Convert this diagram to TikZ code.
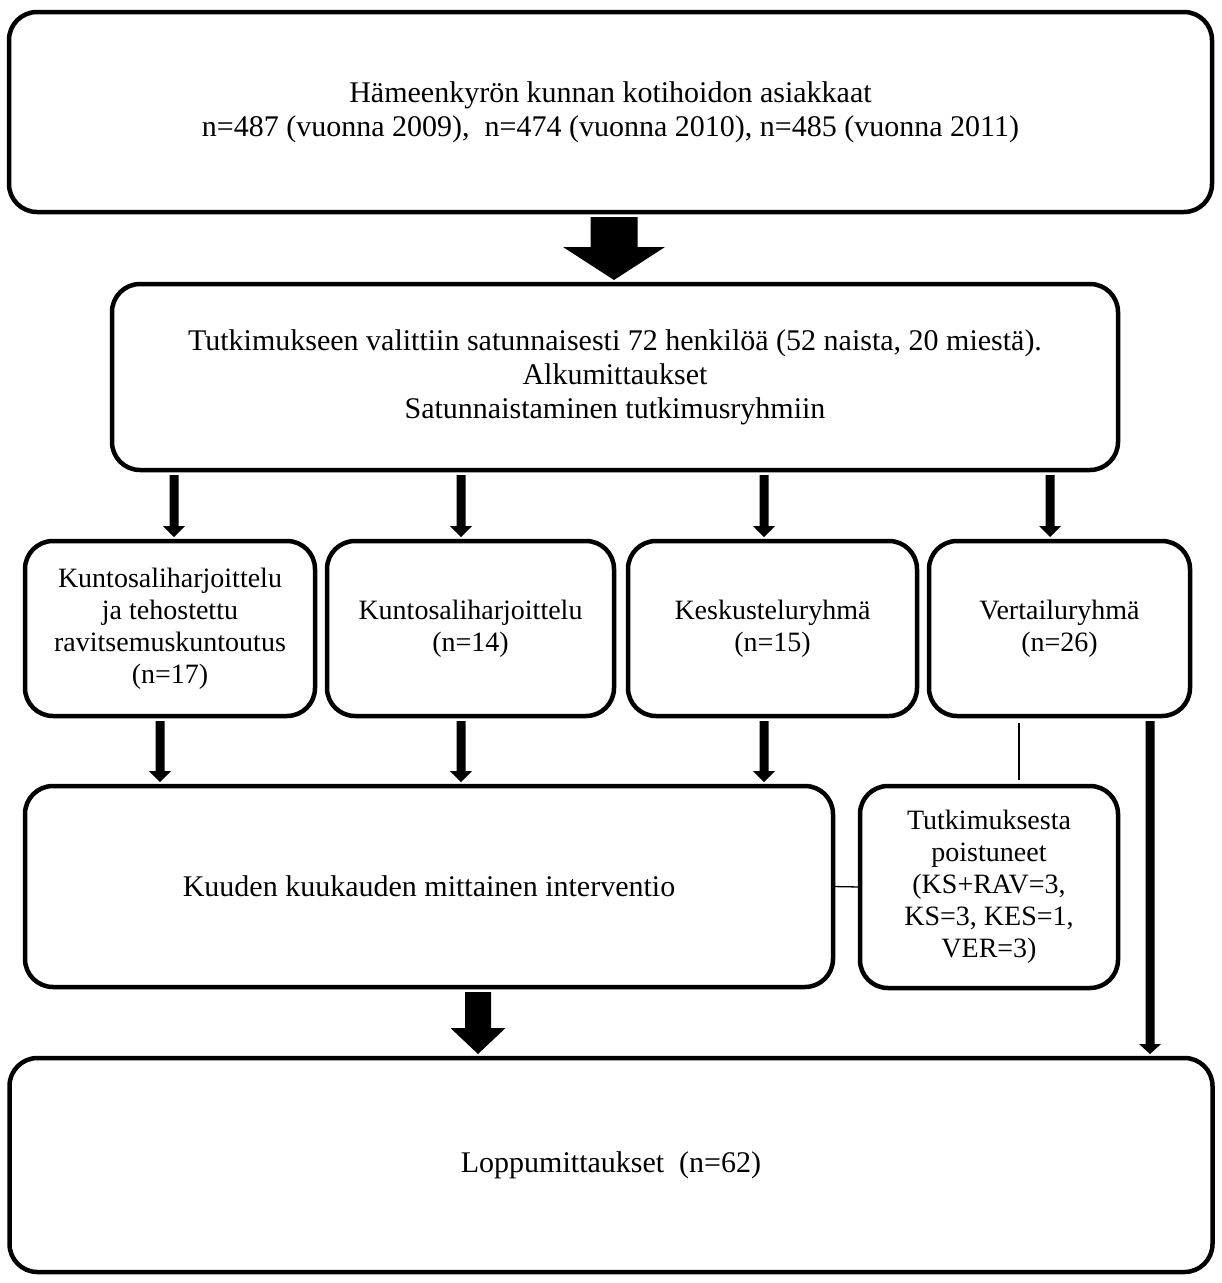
\documentclass[tikz,border=0pt]{standalone}
\usepackage{fontspec}
\setmainfont{Liberation Serif}
\usetikzlibrary{calc}
% fat block arrow: #1 x position, #2 source anchor, #3 target anchor,
% #4 shaft half width, #5 head half width, #6 head length
\newcommand{\fatarrow}[6]{%
  \fill[arrowfill] let \p1=($(#1,0 |- #2)+(0,5)$), \p2=($(#1,0 |- #3)+(0,-4)$) in
   (\x1-#4,\y1) -- (\x1+#4,\y1) -- (\x1+#4,\y2+#6) -- (\x1+#5,\y2+#6) --
   (\x1,\y2) -- (\x1-#5,\y2+#6) -- (\x1-#4,\y2+#6) -- cycle;}
\begin{document}
\begin{tikzpicture}[x=1pt,y=-1pt,
  box/.style={draw, line width=4.5pt, rounded corners=28pt, align=center,
    inner sep=0pt, outer sep=0pt},
  bigtext/.style={font=\fontsize{30}{34}\selectfont},
  smalltext/.style={font=\fontsize{28}{32}\selectfont},
  arrowfill/.style={fill=black},
  thinline/.style={draw, line width=1.3pt}]
\useasboundingbox (0,0) rectangle (1222,1283);

\node[box,bigtext,minimum width=1203pt,minimum height=200pt] (top) at (610.5,112)
  {Hämeenkyrön kunnan kotihoidon asiakkaat\\n=487 (vuonna 2009),\ \ n=474 (vuonna 2010), n=485 (vuonna 2011)};

\node[box,bigtext,minimum width=1006pt,minimum height=186pt] (sel) at (615,377)
  {Tutkimukseen valittiin satunnaisesti 72 henkilöä (52 naista, 20 miestä).\\Alkumittaukset\\Satunnaistaminen tutkimusryhmiin};

\node[box,smalltext,minimum width=290pt,minimum height=175pt] (g1) at (170,628.5)
  {Kuntosaliharjoittelu\\ja tehostettu\\ravitsemuskuntoutus\\(n=17)};
\node[box,smalltext,minimum width=287pt,minimum height=175pt] (g2) at (470.5,628.5)
  {Kuntosaliharjoittelu\\(n=14)};
\node[box,smalltext,minimum width=289pt,minimum height=175pt] (g3) at (772.5,628.5)
  {Keskusteluryhmä\\(n=15)};
\node[box,smalltext,minimum width=261pt,minimum height=175pt] (g4) at (1059.5,628.5)
  {Vertailuryhmä\\(n=26)};

\node[box,bigtext,minimum width=808pt,minimum height=201pt] (interv) at (429,886.5)
  {Kuuden kuukauden mittainen interventio};
\node[box,smalltext,minimum width=258pt,minimum height=202pt] (drop) at (989,887)
  {Tutkimuksesta\\poistuneet\\(KS+RAV=3,\\KS=3, KES=1,\\VER=3)};

\node[box,bigtext,minimum width=1203pt,minimum height=214pt] (final) at (611,1165)
  {Loppumittaukset\ \ (n=62)};

% arrows
\fatarrow{614}{top.south}{sel.north}{23.5pt}{51pt}{33pt}
\fatarrow{174}{sel.south}{g1.north}{4.5pt}{11pt}{11pt}
\fatarrow{461}{sel.south}{g2.north}{4.5pt}{11pt}{11pt}
\fatarrow{764}{sel.south}{g3.north}{4.5pt}{11pt}{11pt}
\fatarrow{1050}{sel.south}{g4.north}{4.5pt}{11pt}{11pt}
\fatarrow{160}{g1.south}{interv.north}{4.5pt}{11pt}{11pt}
\fatarrow{461}{g2.south}{interv.north}{4.5pt}{11pt}{11pt}
\fatarrow{764}{g3.south}{interv.north}{4.5pt}{11pt}{11pt}
\fatarrow{478}{interv.south}{final.north}{13pt}{27.5pt}{26pt}
\fatarrow{1150}{g4.south}{final.north}{4.5pt}{11pt}{10pt}

% thin connectors
\draw[thinline] ($(1019,0 |- g4.south)+(0,7)$) -- ($(1019,0 |- drop.north)+(0,-6)$);
\draw[thinline] (interv.east) -- (drop.west);
\end{tikzpicture}
\end{document}
